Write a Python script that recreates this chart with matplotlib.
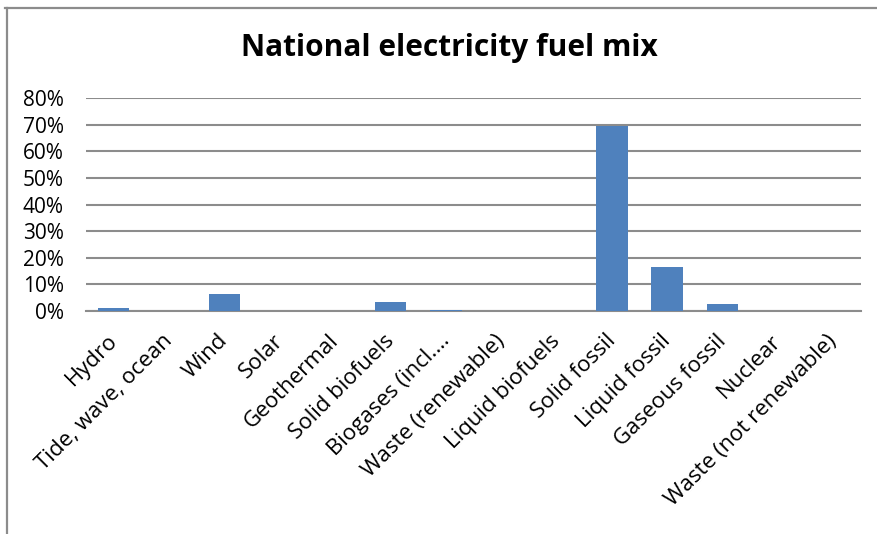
import matplotlib
matplotlib.use("Agg")
import matplotlib.pyplot as plt
from matplotlib.ticker import FuncFormatter, MultipleLocator
from matplotlib.lines import Line2D
from matplotlib.transforms import ScaledTranslation

categories = ["Hydro", "Tide, wave, ocean", "Wind", "Solar", "Geothermal",
              "Solid biofuels", "Biogases (incl.\u2026", "Waste (renewable)",
              "Liquid biofuels", "Solid fossil", "Liquid fossil",
              "Gaseous fossil", "Nuclear", "Waste (not renewable)"]
values = [0.010, 0.0, 0.063, 0.0, 0.0, 0.034, 0.004, 0.0, 0.0,
          0.694, 0.164, 0.027, 0.0, 0.0]
title = "National electricity fuel mix"

plt.rcParams['font.family'] = ['Open Sans', 'DejaVu Sans']

W, H = 877, 534
fig = plt.figure(figsize=(W / 100, H / 100), dpi=100)

# partial chart border (top and left)
fig.add_artist(Line2D([5 / W, 1.0], [1 - 8 / H, 1 - 8 / H], color="#8c8c8c",
                      lw=1.6, transform=fig.transFigure))
fig.add_artist(Line2D([7 / W, 7 / W], [0.0, 1 - 8 / H], color="#8c8c8c",
                      lw=1.6, transform=fig.transFigure))

left, right = 86 / W, 861 / W
bottom, top = 1 - 311 / H, 1 - 98.3 / H
ax = fig.add_axes([left, bottom, right - left, top - bottom])

x = list(range(len(categories)))
ax.bar(x, values, width=0.57, color="#4f81bd", zorder=3)
ax.set_xlim(-0.5, len(categories) - 0.5)
ax.set_ylim(0, 0.8)
ax.yaxis.set_major_locator(MultipleLocator(0.1))
ax.yaxis.set_major_formatter(FuncFormatter(lambda v, p: f"{v*100:.0f}%"))
ax.grid(axis="y", color="#8c8c8c", lw=1.5, zorder=0)
for s in ["top", "right", "left"]:
    ax.spines[s].set_visible(False)
ax.spines["bottom"].set_color("#8c8c8c")
ax.spines["bottom"].set_linewidth(1.5)
ax.tick_params(axis="y", length=0, labelsize=15, pad=16)
ax.tick_params(axis="x", length=0, labelsize=16, pad=14)
ax.set_xticks(x)
ax.set_xticklabels(categories, rotation=45, ha="right", rotation_mode="anchor")
shift = ScaledTranslation(-7 / 100, 0, fig.dpi_scale_trans)
for lbl in ax.get_xticklabels():
    lbl.set_transform(lbl.get_transform() + shift)

fig.text(449 / W, 1 - 48 / H, title, ha="center", va="center",
         fontsize=21.5, fontweight="bold")

fig.savefig("out.png", dpi=100)
